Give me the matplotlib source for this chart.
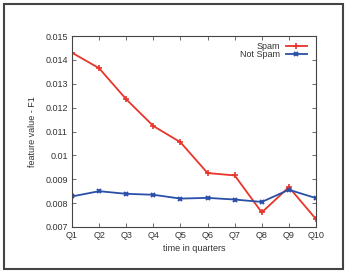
import matplotlib
matplotlib.use("Agg")
import matplotlib.pyplot as plt
from matplotlib.patches import Rectangle

quarters = ["Q1", "Q2", "Q3", "Q4", "Q5", "Q6", "Q7", "Q8", "Q9", "Q10"]
spam = [0.0143, 0.01365, 0.01235, 0.01123, 0.01055, 0.00926, 0.00916, 0.00761, 0.00867, 0.00733]
not_spam = [0.00828, 0.0085, 0.00839, 0.00835, 0.00819, 0.00822, 0.00815, 0.00805, 0.00856, 0.00821]
yticks = [0.007, 0.008, 0.009, 0.01, 0.011, 0.012, 0.013, 0.014, 0.015]
ytick_labels = ["0.007", "0.008", "0.009", "0.01", "0.011", "0.012", "0.013", "0.014", "0.015"]

plt.rcParams['font.family'] = ['Liberation Sans', 'DejaVu Sans']

fig = plt.figure(figsize=(3.54, 2.72), dpi=100)
fig.patches.append(Rectangle((4/354, 3/272), 339/354, 265/272, transform=fig.transFigure,
                             fill=False, edgecolor='#444444', linewidth=1.5))
ax = fig.add_axes([72/354, 45/272, 244/354, 191/272])

x = list(range(len(quarters)))
ax.plot(x, spam, color='#e8352a', marker='+', markersize=4, markeredgewidth=1.2, linewidth=1.3, label='Spam')
ax.plot(x, not_spam, color='#2a4fa8', marker='x', markersize=3.5, markeredgewidth=1.4, linewidth=1.3, label='Not Spam')

ax.set_xlim(0, len(quarters) - 1)
ax.set_ylim(0.007, 0.015)
ax.set_xticks(x)
ax.set_xticklabels(quarters, fontsize=6.5, color='#333333')
ax.set_yticks(yticks)
ax.set_yticklabels(ytick_labels, fontsize=6.5, color='#333333')
ax.tick_params(direction='in', top=True, right=True, length=3, width=0.6, color='#555555', pad=3)
for s in ax.spines.values():
    s.set_linewidth(0.8)
    s.set_color('#444444')

ax.set_xlabel("time in quarters", fontsize=6.5, color='#333333', labelpad=3)
ax.set_ylabel("feature value - F1", fontsize=6.5, color='#333333', labelpad=6)

leg = ax.legend(loc='upper right', frameon=False, markerfirst=False, fontsize=6.5,
                handlelength=2.4, handletextpad=0.6, labelspacing=-0.15,
                borderaxespad=0.3, bbox_to_anchor=(0.99, 1.0))
for t in leg.get_texts():
    t.set_color('#333333')

fig.savefig("out.png", dpi=100)
